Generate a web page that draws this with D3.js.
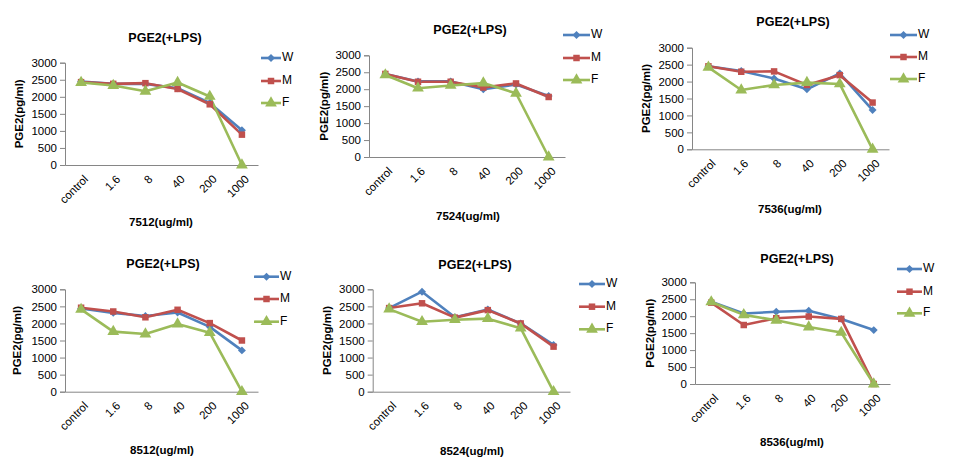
<!DOCTYPE html>
<html><head><meta charset="utf-8">
<script src="https://cdn.jsdelivr.net/npm/d3@7"></script>
<style>
html,body{margin:0;padding:0;background:#fff;}
svg{display:block;font-family:"Liberation Sans",Arial,sans-serif;}
</style></head>
<body>
<svg id="chart" width="962" height="471"></svg>
<script>
// ---------- DATA ----------
const categories = ["control", "1.6", "8", "40", "200", "1000"];
const seriesNames = ["W", "M", "F"];
const yTicks = [0, 500, 1000, 1500, 2000, 2500, 3000];
const chartTitle = "PGE2(+LPS)";
const yTitle = "PGE2(pg/ml)";
const xTitles = ["7512(ug/ml)", "7524(ug/ml)", "7536(ug/ml)", "8512(ug/ml)", "8524(ug/ml)", "8536(ug/ml)"];

const W7512 = [2450, 2380, 2380, 2250, 1820, 1020];
const M7512 = [2430, 2380, 2400, 2230, 1780, 890];
const F7512 = [2420, 2330, 2160, 2420, 2010, 0];

const W7524 = [2450, 2230, 2230, 2000, 2140, 1800];
const M7524 = [2450, 2220, 2220, 2050, 2170, 1770];
const F7524 = [2420, 2030, 2110, 2180, 1880, 0];

const W7536 = [2450, 2310, 2090, 1770, 2240, 1160];
const M7536 = [2450, 2290, 2300, 1900, 2190, 1380];
const F7536 = [2420, 1750, 1900, 1970, 1930, 0];

const W8512 = [2440, 2310, 2220, 2320, 1900, 1210];
const M8512 = [2460, 2350, 2180, 2400, 2010, 1500];
const F8512 = [2410, 1760, 1690, 1980, 1730, 0];

const W8524 = [2450, 2930, 2180, 2410, 2000, 1370];
const M8524 = [2450, 2590, 2170, 2390, 2000, 1320];
const F8524 = [2420, 2050, 2110, 2140, 1860, 0];

const W8536 = [2430, 2080, 2130, 2160, 1920, 1590];
const M8536 = [2400, 1740, 1940, 1990, 1920, 0];
const F8536 = [2420, 2040, 1880, 1680, 1520, 0];

const panelData = [
  [W7512, M7512, F7512],
  [W7524, M7524, F7524],
  [W7536, M7536, F7536],
  [W8512, M8512, F8512],
  [W8524, M8524, F8524],
  [W8536, M8536, F8536]
];

// ---------- LAYOUT / STYLE ----------
const layouts = [
  {l:65,  r:258, t:62.7, b:165,   tx:165, ty:39,    lx1:261, lx2:281, ly:[58,81,103],       xtx:161, xty:223,   ytx:20},
  {l:369, r:565, t:55.3, b:157,   tx:470, ty:31,    lx1:563, lx2:590, ly:[35,58,80],        xtx:468, xty:217,   ytx:325},
  {l:692, r:889, t:47.7, b:149.3, tx:793, ty:23,    lx1:890, lx2:917, ly:[35,57,79],        xtx:790, xty:210,   ytx:647},
  {l:65,  r:258, t:289.3,b:391.7, tx:163, ty:265,   lx1:254, lx2:279, ly:[276.7,299,321.7], xtx:162, xty:451,   ytx:18},
  {l:372.7,r:570,t:289.3,b:391.7, tx:475, ty:265.7, lx1:579, lx2:605, ly:[284,306.7,329.3], xtx:472, xty:451.7, ytx:328},
  {l:695, r:890, t:282.3,b:384,   tx:797, ty:260,   lx1:897, lx2:922, ly:[269,291.7,313.3], xtx:792, xty:443,   ytx:651}
];
const colors = {W:"#4F81BD", M:"#C0504D", F:"#9BBB59"};
const symbols = {W:d3.symbolDiamond2, M:d3.symbolSquare, F:d3.symbolTriangle};
const symSize = {W:40, M:42, F:60};
const axisColor = "#868686";

const svg = d3.select("#chart");

layouts.forEach((L, pi) => {
  const g = svg.append("g");
  const x = d3.scaleBand().domain(categories).range([L.l, L.r]);
  const y = d3.scaleLinear().domain([0, 3000]).range([L.b, L.t]);
  const cx = c => x(c) + x.bandwidth() / 2;

  // y axis
  const yAx = g.append("g").attr("transform", `translate(${L.l},0)`)
    .call(d3.axisLeft(y).tickValues(yTicks).tickFormat(d3.format("d")).tickSize(5).tickPadding(3));
  yAx.select(".domain").attr("stroke", axisColor);
  yAx.selectAll(".tick line").attr("stroke", axisColor);
  yAx.selectAll(".tick text").attr("font-size", "11.5px").attr("fill", "#000")
     .attr("font-family", "Liberation Sans, Arial, sans-serif");

  // x axis
  const xAx = g.append("g").attr("transform", `translate(0,${L.b})`)
    .call(d3.axisBottom(x).tickSize(0).tickSizeOuter(0));
  xAx.select(".domain").attr("stroke", axisColor);
  xAx.selectAll(".tick text")
    .attr("font-size", "11.5px").attr("fill", "#000")
    .attr("font-family", "Liberation Sans, Arial, sans-serif")
    .attr("text-anchor", "end")
    .attr("dy", "0.35em")
    .attr("transform", "translate(5,12) rotate(-45)")
    .attr("y", 0).attr("x", 0);

  // series
  const data = panelData[pi];
  seriesNames.forEach((s, si) => {
    const vals = data[si];
    const pts = categories.map((c, i) => [cx(c), y(vals[i])]);
    g.append("path").attr("d", d3.line()(pts))
      .attr("fill", "none").attr("stroke", colors[s])
      .attr("stroke-width", 2.6).attr("stroke-linejoin", "round");
  });
  seriesNames.forEach((s, si) => {
    const vals = data[si];
    g.selectAll(null).data(categories).enter().append("path")
      .attr("transform", (c, i) => `translate(${cx(c)},${y(vals[i])})`)
      .attr("d", d3.symbol(symbols[s], symSize[s])())
      .attr("fill", colors[s]);
  });

  // title
  g.append("text").attr("x", L.tx).attr("y", L.ty).attr("text-anchor", "middle")
    .attr("dominant-baseline", "middle").attr("font-weight", "bold").attr("font-size", "12.5px")
    .text(chartTitle);
  // x title
  g.append("text").attr("x", L.xtx).attr("y", L.xty).attr("text-anchor", "middle")
    .attr("dominant-baseline", "middle").attr("font-weight", "bold").attr("font-size", "11.5px")
    .text(xTitles[pi]);
  // y title
  g.append("text").attr("transform", `translate(${L.ytx},${(L.t + L.b) / 2}) rotate(-90)`)
    .attr("text-anchor", "middle").attr("dominant-baseline", "middle")
    .attr("font-weight", "bold").attr("font-size", "11.5px").text(yTitle);

  // legend
  seriesNames.forEach((s, si) => {
    const ly = L.ly[si];
    g.append("line").attr("x1", L.lx1).attr("x2", L.lx2).attr("y1", ly).attr("y2", ly)
      .attr("stroke", colors[s]).attr("stroke-width", 2.6);
    g.append("path").attr("transform", `translate(${(L.lx1 + L.lx2) / 2},${ly})`)
      .attr("d", d3.symbol(symbols[s], symSize[s])()).attr("fill", colors[s]);
    g.append("text").attr("x", L.lx2 + 1).attr("y", ly).attr("dominant-baseline", "middle")
      .attr("font-size", "12px").text(s);
  });
});
</script>
</body></html>
